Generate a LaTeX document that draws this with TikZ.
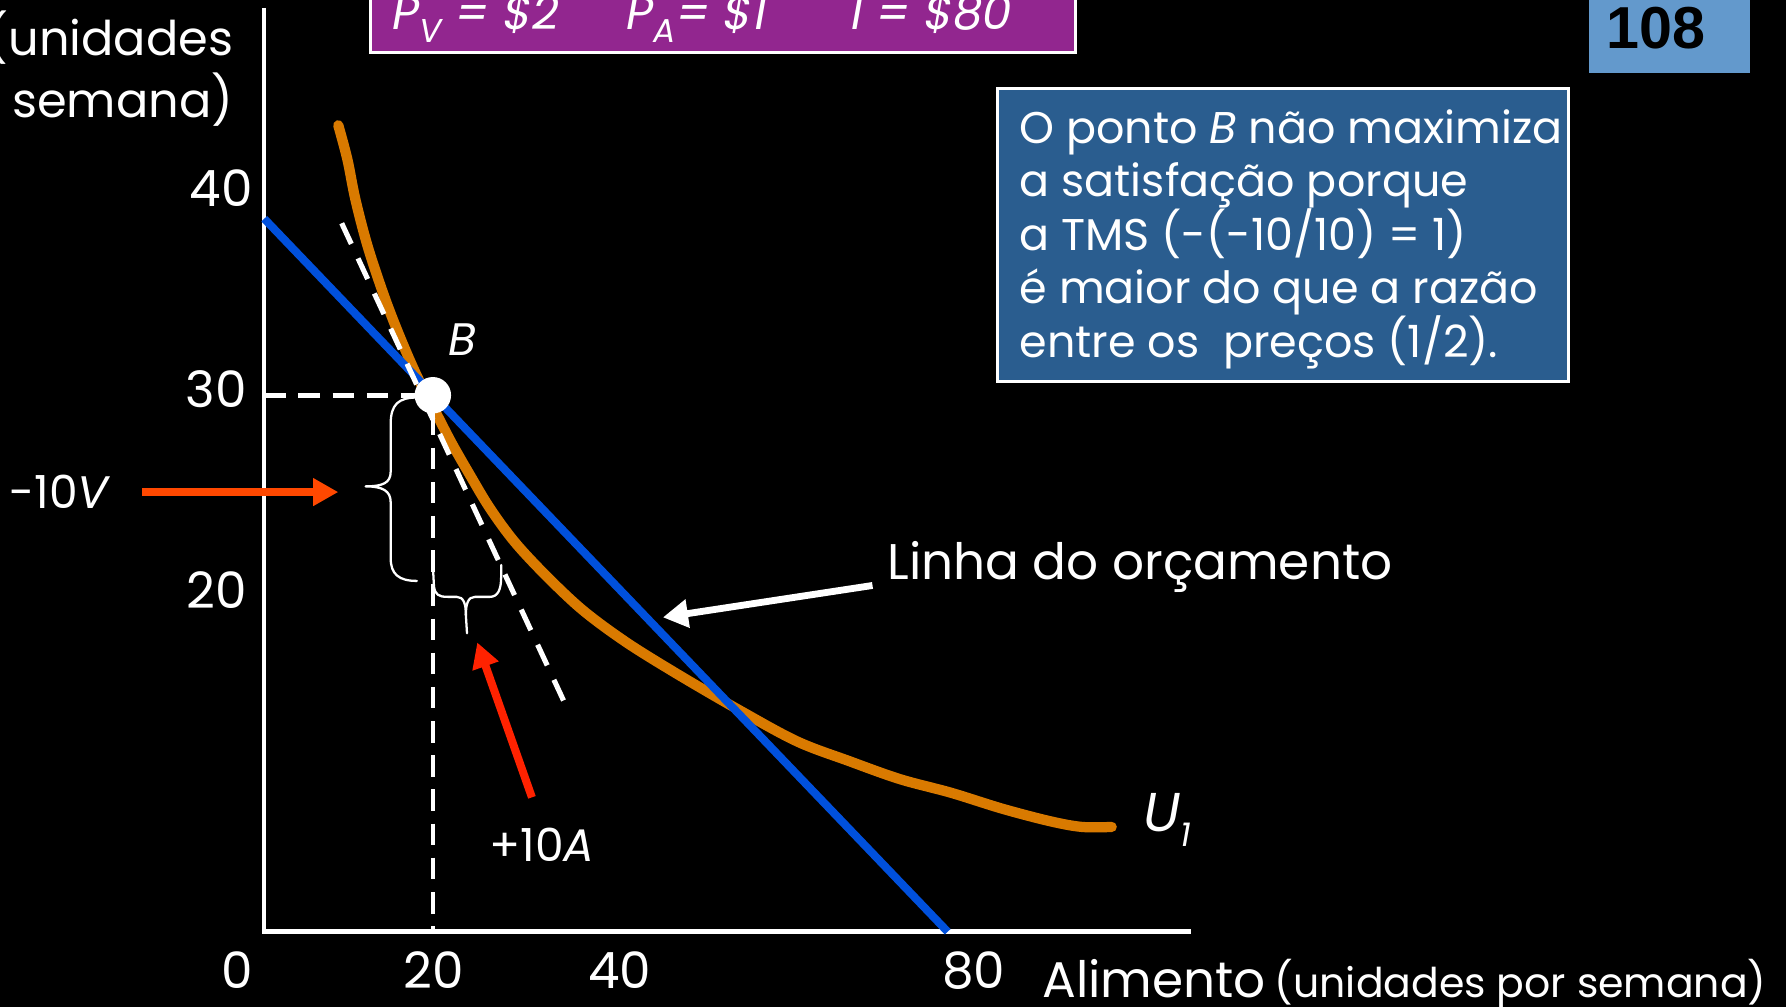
\documentclass[tikz,border=0pt]{standalone}
\usepackage{fontspec}
\setmainfont{Poppins}
\newfontfamily\tagfont{Liberation Sans}
\usetikzlibrary{arrows.meta}
\definecolor{pricepurple}{RGB}{146,38,143}
\definecolor{noteblue}{RGB}{42,93,143}
\definecolor{tagblue}{RGB}{99,153,204}
\definecolor{budgetblue}{RGB}{0,80,220}
\definecolor{curveorange}{RGB}{217,122,0}
\definecolor{arrowred}{RGB}{255,72,0}
\definecolor{arrowredb}{RGB}{255,34,0}
\newcommand\fsz[2]{\fontsize{#1}{#2}\selectfont}
\newcommand\mysub[1]{\raisebox{-0.27em}{\fontsize{29}{29}\selectfont #1}}
\begin{document}
\begin{tikzpicture}[x=1pt,y=-1pt,
  lbl/.style={text=white,inner sep=0pt,font=\fsz{44}{44}},
  smalllbl/.style={text=white,inner sep=0pt,font=\fsz{40}{40}},
  axisline/.style={white,line width=3.5pt},
  guide/.style={white,line width=4pt,dash pattern=on 19pt off 11pt},
  tangent/.style={white,line width=4.5pt,dash pattern=on 20pt off 14pt},
  bracestyle/.style={white,line width=2pt,line join=round,line cap=round},
  fatarrow/.style={line width=7pt,-{Triangle[length=22pt,width=23pt]}},
]
\fill[black] (0,0) rectangle (1568,884);
\clip (0,0) rectangle (1568,884);

% axes
\draw[axisline] (232,7) -- (232,818);
\draw[white,line width=4.5pt] (230,818) -- (1046,818);

% indifference curve
\draw[curveorange,line width=9pt,line cap=round,line join=round]
  plot[smooth,tension=0.55] coordinates {(297,110) (305,140) (312,175) (323,217) (338,262) (352,298) (366,330) (380,357) (396,388) (412,416) (430,446) (452,476) (480,506) (512,536) (550,564) (595,592) (650,624) (700,651) (745,668) (790,684) (835,696) (880,710) (922,721) (950,726) (976,726)};

% budget line
\coordinate (bstart) at (232,192);
\coordinate (bend) at (832,818);
\draw[budgetblue,line width=7pt] (bstart) -- (bend);

% guides
\coordinate (y30) at (232,347);
\coordinate (x20) at (380,818);
\coordinate (Bc) at (380,347);
\draw[guide] (y30) -- (366,347);
\draw[guide] (380,363) -- (x20);
\coordinate (tanA) at (300,196);
\coordinate (tanB) at (498,622);
\draw[tangent] (tanA) -- (tanB);
\node[circle,fill=white,minimum size=32pt,inner sep=0pt] (B) at (Bc) {};

% braces
\draw[bracestyle] (366,349) .. controls (350,349) and (343,355) .. (343,372) -- (343,414)
  .. controls (343,424) and (336,427) .. (321,427) .. controls (336,427) and (343,431) .. (343,441)
  -- (343,490) .. controls (343,504) and (350,510) .. (366,510);
\draw[bracestyle] (380,496) -- (381,515) .. controls (382,522) and (385,524) .. (393,524) -- (401,524)
  .. controls (407,524) and (409,530) .. (409,540) -- (410,556);
\draw[bracestyle] (409,540) .. controls (409,530) and (411,524) .. (417,524) -- (430,524)
  .. controls (437,524) and (440,518) .. (440,506) -- (440,496);

% arrows
\coordinate (vtail) at (125,432);
\coordinate (vtip) at (297,432);
\draw[fatarrow,arrowred] (vtail) -- (vtip);
\coordinate (atail) at (467,700);
\coordinate (atip) at (419,564);
\draw[fatarrow,arrowredb] (atail) -- (atip);
\coordinate (ltail) at (766,514);
\coordinate (ltip) at (582,542);
\draw[white,line width=6pt,-{Triangle[length=22pt,width=24pt]}] (ltail) -- (ltip);

% prices box
\draw[white,line width=2.5pt,fill=pricepurple] (325,-10) rectangle (944,46);
\node[lbl,anchor=base west,font=\itshape\fsz{41}{41}] (pv) at (344,26) {P\mysub{V} = \$2};
\node[lbl,anchor=base west,font=\itshape\fsz{41}{41}] (pa) at (550,26) {P\mysub{A}= \$1};
\node[lbl,anchor=base west,font=\itshape\fsz{41}{41}] (inc) at (747,26) {I = \$80};

% page tag
\fill[tagblue] (1395,-5) rectangle (1536,64);
\node[inner sep=0pt,text=black,font=\tagfont\bfseries\fsz{52}{52}] (tag) at (1454,25) {108};

% note box
\draw[white,line width=2.5pt,fill=noteblue] (876,78) rectangle (1377,335);
\node[text=white,inner sep=0pt,anchor=west,align=left,font=\fsz{39}{47}] (note) at (895,210)
  {O ponto \textit{B} não maximiza\\a satisfação porque\\a TMS (-(-10/10) = 1)\\é maior do que a razão\\entre os\ \ preços (1/2).};

% labels
\node[lbl,anchor=east,align=right,font=\fsz{42}{54}] (ylab) at (205,62) {(unidades\\por semana)};
\node[lbl,anchor=east] (t40) at (222,165) {40};
\node[lbl,anchor=east] (t30) at (217,342) {30};
\node[lbl,anchor=east] (t20) at (217,518) {20};
\node[lbl] (x0) at (208,852) {0};
\node[lbl] (x20l) at (381,852) {20};
\node[lbl] (x40) at (544,852) {40};
\node[lbl] (x80) at (855,852) {80};
\node[lbl,anchor=base west] (xlab) at (915,876) {Alimento};
\node[lbl,anchor=base west,font=\fsz{36}{36}] (xlabu) at (1119,876) {(unidades por semana)};
\node[smalllbl,font=\itshape\fsz{40}{40}] (Blbl) at (406,298) {B};
\node[smalllbl] (vlbl) at (53,432) {-10\textit{V}};
\node[smalllbl] (albl) at (476,742) {+10\textit{A}};
\node[lbl,anchor=base west,font=\itshape\fsz{48}{48}] (ulbl) at (1004,730) {U\mysub{1}};
\node[lbl,anchor=west] (budgetlbl) at (779,498) {Linha do orçamento};
\end{tikzpicture}
\end{document}
